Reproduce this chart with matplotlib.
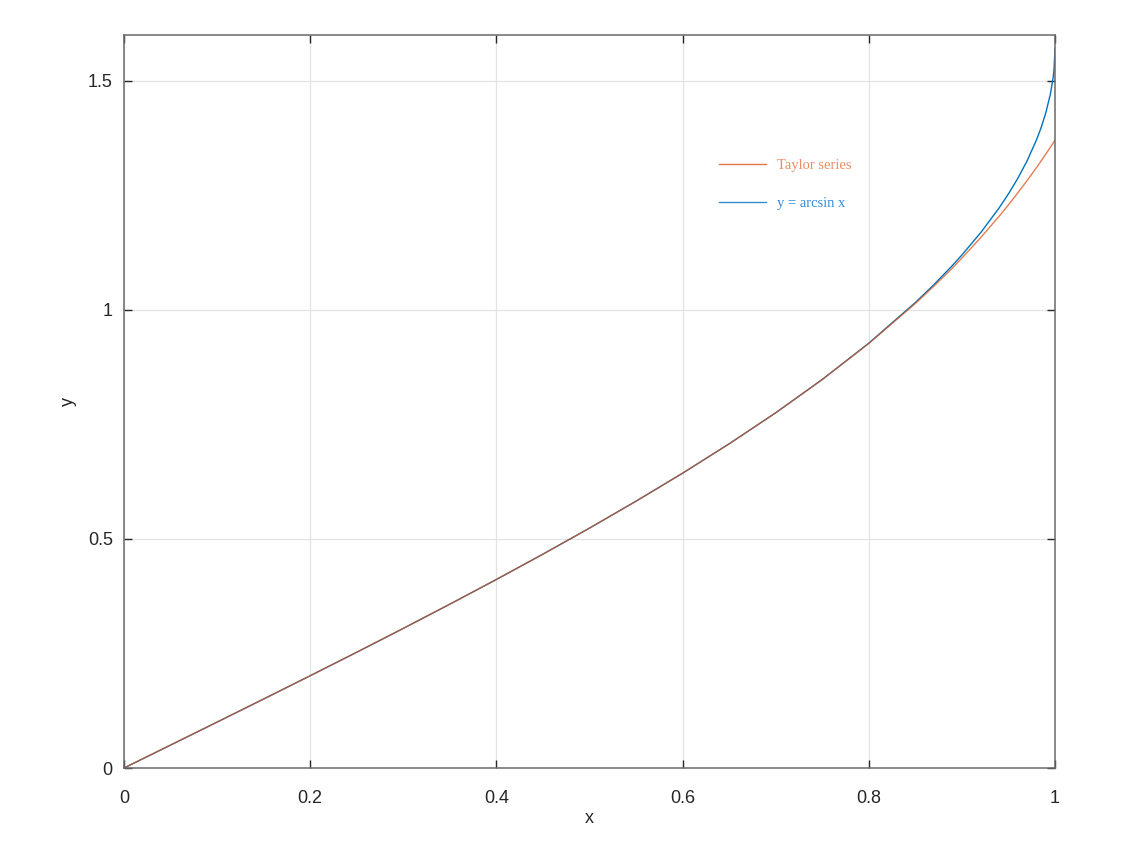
import numpy as np
import matplotlib.pyplot as plt

# values
x_vals = [0.0, 0.05, 0.1, 0.15, 0.2, 0.25, 0.3, 0.35, 0.4, 0.45, 0.5, 0.55, 0.6,
          0.65, 0.7, 0.75, 0.8, 0.85, 0.87, 0.89, 0.9, 0.92, 0.94, 0.95, 0.96, 0.97,
          0.98, 0.985, 0.99, 0.995, 0.998, 0.999, 1.0]
arcsin_y = [0.0, 0.0500, 0.1002, 0.1506, 0.2014, 0.2527, 0.3047, 0.3576, 0.4115,
            0.4668, 0.5236, 0.5824, 0.6435, 0.7076, 0.7754, 0.8481, 0.9273, 1.0160,
            1.0552, 1.0973, 1.1198, 1.1681, 1.2226, 1.2532, 1.2870, 1.3252, 1.3705,
            1.3974, 1.4293, 1.4708, 1.5075, 1.5261, 1.5708]
taylor_y = [0.0, 0.0500, 0.1002, 0.1506, 0.2014, 0.2527, 0.3047, 0.3576, 0.4115,
            0.4668, 0.5236, 0.5824, 0.6435, 0.7076, 0.7753, 0.8479, 0.9267, 1.0140,
            1.0519, 1.0917, 1.1132, 1.1573, 1.2044, 1.2292, 1.2553, 1.2822, 1.3103,
            1.3248, 1.3397, 1.3549, 1.3642, 1.3673, 1.3704]

x_ticks = [0, 0.2, 0.4, 0.6, 0.8, 1]
x_ticklabels = ['0', '0.2', '0.4', '0.6', '0.8', '1']
y_ticks = [0, 0.5, 1, 1.5]
y_ticklabels = ['0', '0.5', '1', '1.5']

plt.rcParams['font.family'] = ['Liberation Sans', 'DejaVu Sans']

fig = plt.figure(figsize=(11.22, 8.49), dpi=100)
ax = fig.add_axes([0.1105, 0.0954, 0.8298, 0.8634])

ax.plot(x_vals, arcsin_y, color='#0072BD', lw=1.0, label='y = arcsin x')
ax.plot(x_vals, taylor_y, color='#D95319', lw=1.0, alpha=0.75, label='Taylor series')

ax.set_xlim(0, 1)
ax.set_ylim(0, 1.6)
ax.set_xticks(x_ticks)
ax.set_xticklabels(x_ticklabels)
ax.set_yticks(y_ticks)
ax.set_yticklabels(y_ticklabels)
ax.grid(True, color='#e3e3e3', lw=0.9)
ax.set_axisbelow(True)
ax.tick_params(direction='in', length=6, width=1, top=True, right=True,
               labelsize=13, colors='#262626')
ax.tick_params(axis='x', pad=16)
ax.tick_params(axis='y', pad=8)
for s in ax.spines.values():
    s.set_color('#6a6a6a')
    s.set_linewidth(1.1)
ax.set_xlabel('x', fontsize=13, color='#262626', labelpad=2)
ax.set_ylabel('y', fontsize=13, color='#262626', labelpad=8)

handles, labels = ax.get_legend_handles_labels()
leg = ax.legend(handles[::-1], labels[::-1], loc='upper left', bbox_to_anchor=(0.639, 0.831),
                frameon=False, handlelength=3.2, handletextpad=0.8,
                labelspacing=1.72, borderpad=0, borderaxespad=0,
                prop={'family': 'Liberation Serif', 'size': 10.5})
leg.get_texts()[0].set_color('#ec8a62')
leg.get_texts()[1].set_color('#2f8ad4')
for h in leg.legend_handles:
    h.set_alpha(0.8)

fig.savefig('out.png', dpi=100)
